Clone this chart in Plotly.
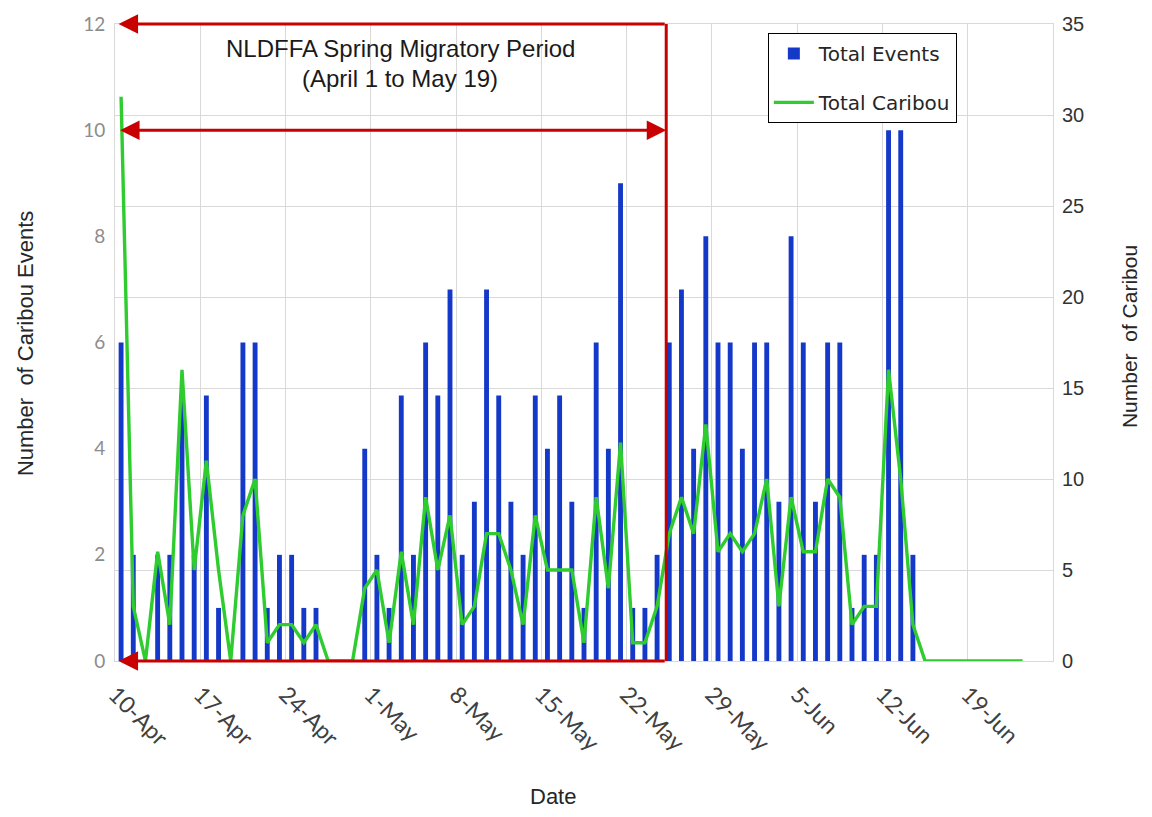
import plotly.graph_objects as go
import pandas as pd

# ---------------- data ----------------
start_date = "2013-04-10"
events = [6, 2, 0, 2, 2, 5, 2, 5, 1, 0,
          6, 6, 1, 2, 2, 1, 1, 0, 0, 0,
          4, 2, 1, 5, 2, 6, 5, 7, 2, 3,
          7, 5, 3, 2, 5, 4, 5, 3, 1, 6,
          4, 9, 1, 1, 2, 6, 7, 4, 8, 6,
          6, 4, 6, 6, 3, 8, 6, 3, 6, 6,
          1, 2, 2, 10, 10, 2, 0, 0, 0, 0,
          0, 0, 0, 0, 0]
caribou = [31, 3, 0, 6, 2, 16, 5, 11, 5, 0,
           8, 10, 1, 2, 2, 1, 2, 0, 0, 0,
           4, 5, 1, 6, 2, 9, 5, 8, 2, 3,
           7, 7, 5, 2, 8, 5, 5, 5, 1, 9,
           4, 12, 1, 1, 3, 7, 9, 7, 13, 6,
           7, 6, 7, 10, 3, 9, 6, 6, 10, 9,
           2, 3, 3, 16, 10, 2, 0, 0, 0, 0,
           0, 0, 0, 0, 0]
tick_labels = ["10-Apr", "17-Apr", "24-Apr", "1-May", "8-May", "15-May",
               "22-May", "29-May", "5-Jun", "12-Jun", "19-Jun"]

dates = pd.date_range(start_date, periods=len(caribou), freq="D")
tick_dates = pd.date_range(start_date, periods=len(tick_labels), freq="7D")
week_bounds = pd.date_range("2013-04-09 12:00", periods=12, freq="7D")

# annotation anchors (period box)
period_end = "2013-05-24 18:00"
arrow_head = "2013-04-09 19:00"

BLUE = "#1438c8"
GREEN = "#2ecc2e"
RED = "#c80000"
GRID = "#d9d9d9"
GOTHIC = "Lato, 'Open Sans', sans-serif"
WIDE = "'DejaVu Sans', sans-serif"
ARIAL = "'Liberation Sans', Arial, sans-serif"

fig = go.Figure()
fig.add_trace(go.Bar(x=dates, y=events, name="Total Events",
                     marker=dict(color=BLUE, line=dict(width=0)),
                     yaxis="y", legendgroup="a"))
fig.add_trace(go.Scatter(x=dates, y=caribou, name="Total Caribou", mode="lines",
                         line=dict(color=GREEN, width=3.4),
                         yaxis="y2", legendgroup="b"))

# page body has an 8px margin, so the figure is sized to fit the window
fig.update_layout(
    width=1144, height=801,
    margin=dict(l=107, r=99, t=16, b=148, autoexpand=False),
    paper_bgcolor="white", plot_bgcolor="white",
    bargap=0.6,
    showlegend=True,
    legend=dict(x=0.696, y=0.986, xanchor="left", yanchor="top",
                bordercolor="#000000", borderwidth=1, bgcolor="white",
                font=dict(family=WIDE, size=20, color="#262626"),
                itemwidth=40,
                traceorder="grouped", tracegroupgap=20),
    xaxis=dict(type="date", automargin=False,
               range=["2013-04-09 12:00", "2013-06-25 12:00"],
               tickmode="array", tickvals=tick_dates, ticktext=tick_labels,
               tickangle=45, ticks="", showgrid=False, zeroline=False,
               ticklabelstandoff=10, ticklabelshift=-6,
               minor=dict(tickmode="array", tickvals=week_bounds, showgrid=True,
                          gridcolor=GRID, gridwidth=1, ticks=""),
               showline=True, linecolor=GRID, mirror=True,
               tickfont=dict(family=GOTHIC, size=23, color="#404040")),
    yaxis=dict(range=[0, 12], dtick=2, showgrid=False, zeroline=False,
               automargin=False, ticklabelstandoff=5,
               showline=True, linecolor=GRID, ticks="",
               tickfont=dict(family=GOTHIC, size=19, color="#8c8c8c")),
    yaxis2=dict(range=[0, 35], dtick=5, overlaying="y", side="right",
                automargin=False, ticklabelstandoff=4,
                showgrid=True, gridcolor=GRID, zeroline=False,
                showline=True, linecolor=GRID, ticks="",
                tickfont=dict(family=ARIAL, size=20, color="#333333")),
    font=dict(family=ARIAL),
)

# red period box
fig.add_shape(type="line", xref="x", yref="y", x0=period_end, x1=period_end,
              y0=0, y1=12, line=dict(color=RED, width=3))

for yv, both in [(12, False), (0, False), (10, True)]:
    fig.add_annotation(x=arrow_head if not both else period_end, y=yv,
                       ax=period_end if not both else arrow_head, ay=yv,
                       xref="x", yref="y", axref="x", ayref="y",
                       text="", showarrow=True, arrowhead=2, arrowsize=1.3,
                       arrowwidth=3, arrowcolor=RED,
                       arrowside="end+start" if both else "end",
                       startarrowhead=2, startarrowsize=1.3)

fig.add_annotation(xref="paper", yref="paper", x=0.304, y=0.962,
                   xanchor="center", yanchor="middle",
                   text="NLDFFA Spring Migratory Period", showarrow=False,
                   font=dict(family=ARIAL, size=24, color="#1a1a1a"))
fig.add_annotation(xref="paper", yref="paper", x=0.304, y=0.914,
                   xanchor="center", yanchor="middle",
                   text="(April 1 to May 19)", showarrow=False,
                   font=dict(family=ARIAL, size=24, color="#1a1a1a"))

# axis titles
fig.add_annotation(xref="paper", yref="paper", x=-0.096, y=0.499,
                   xanchor="center", yanchor="middle",
                   text="Number\u00a0 of Caribou Events", textangle=-90,
                   showarrow=False, font=dict(family=ARIAL, size=22, color="#262626"))
fig.add_annotation(xref="paper", yref="paper", x=1.081, y=0.51,
                   xanchor="center", yanchor="middle",
                   text="Number\u00a0 of Caribou", textangle=-90,
                   showarrow=False, font=dict(family=ARIAL, size=21, color="#262626"))
fig.add_annotation(xref="paper", yref="paper", x=0.467, y=-0.2135,
                   xanchor="center", yanchor="middle",
                   text="Date", showarrow=False,
                   font=dict(family=ARIAL, size=22, color="#262626"))

fig.write_html("out.html")
